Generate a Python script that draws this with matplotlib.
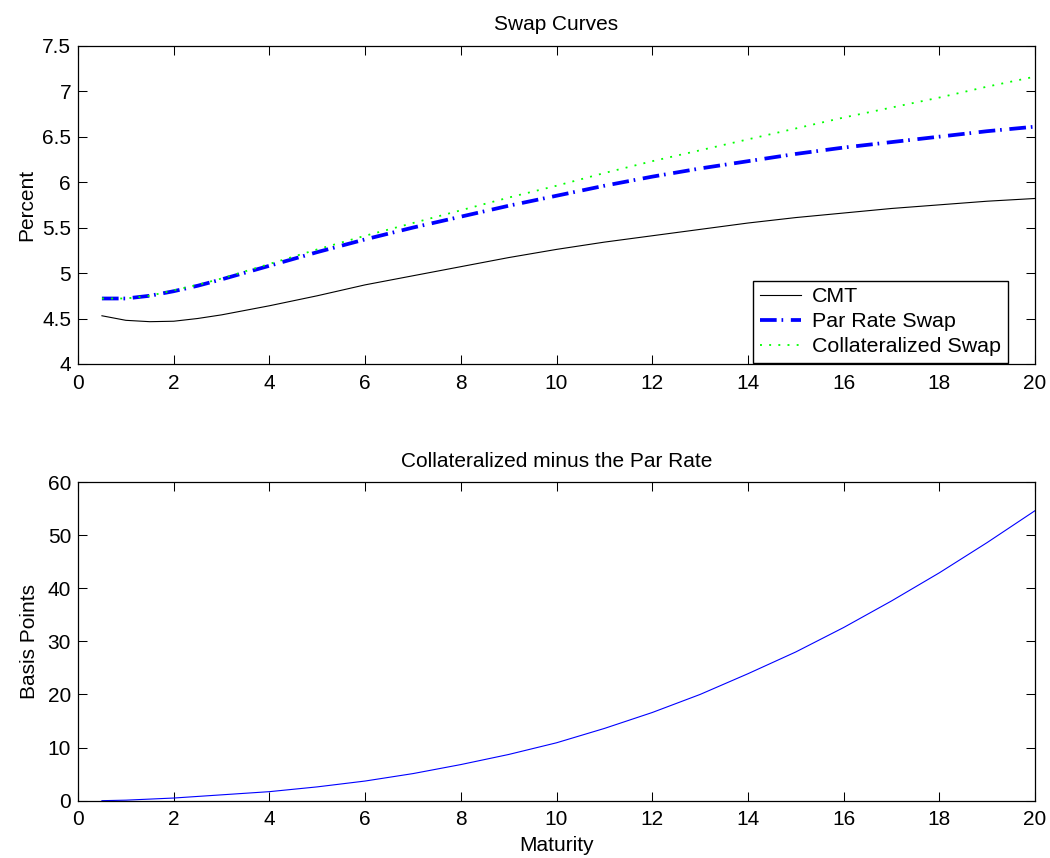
import matplotlib
matplotlib.use("Agg")
import matplotlib.pyplot as plt

plt.rcParams["font.family"]       = ["Liberation Sans", "DejaVu Sans"]
plt.rcParams["font.size"]         = 15
plt.rcParams["lines.scale_dashes"] = False

# maturity grid (years)
maturity = [0.5, 1, 1.5, 2, 2.5, 3, 4, 5, 6, 7, 8, 9, 10,
            11, 12, 13, 14, 15, 16, 17, 18, 19, 20]

# percent
cmt      = [4.53, 4.48, 4.465, 4.47, 4.50, 4.54, 4.64, 4.75, 4.87, 4.97, 5.07, 5.17, 5.26,
            5.34, 5.41, 5.48, 5.55, 5.61, 5.66, 5.71, 5.75, 5.79, 5.82]
par_swap = [4.72, 4.72, 4.75, 4.80, 4.86, 4.93, 5.08, 5.23, 5.37, 5.50, 5.62, 5.74, 5.85,
            5.96, 6.06, 6.15, 6.23, 6.31, 6.38, 6.44, 6.50, 6.56, 6.61]
coll_swap = [4.72, 4.72, 4.75, 4.81, 4.87, 4.94, 5.10, 5.26, 5.41, 5.55, 5.69, 5.83, 5.96,
             6.10, 6.23, 6.35, 6.47, 6.59, 6.71, 6.82, 6.93, 7.05, 7.16]

# basis points
spread_bp = [0.0, 0.1, 0.3, 0.5, 0.8, 1.1, 1.7, 2.6, 3.7, 5.1, 6.8, 8.7, 10.9,
             13.6, 16.6, 20.0, 23.9, 28.0, 32.6, 37.6, 42.9, 48.6, 54.6]


def matlab_axes(ax):
    ax.tick_params(direction="in", length=6.5, width=0.75, top=True, right=True,
                   labelsize=15, pad=5)
    ax.tick_params(axis="x", pad=7)
    for sp in ax.spines.values():
        sp.set_linewidth(0.9)
        sp.set_color("black")


fig = plt.figure(figsize=(10.5, 8.58), dpi=100)
ax1 = fig.add_axes([0.0743, 0.5758, 0.9114, 0.3709])
ax2 = fig.add_axes([0.0743, 0.0668, 0.9114, 0.3714])

ax1.plot(maturity, cmt, color="black", lw=0.8, label="CMT")
ax1.plot(maturity, par_swap, color=(0, 0, 1), lw=2.7,
         linestyle=(0, (12, 3.5, 1.2, 5.5)), label="Par Rate Swap")
ax1.plot(maturity, coll_swap, color=(0, 1, 0), lw=1.3,
         linestyle=(0, (1.4, 5.2)), label="Collateralized Swap")
ax1.set_xlim(0, 20)
ax1.set_ylim(4, 7.5)
ax1.set_xticks(range(0, 21, 2))
ax1.set_yticks([4, 4.5, 5, 5.5, 6, 6.5, 7, 7.5])
ax1.set_yticklabels(["4", "4.5", "5", "5.5", "6", "6.5", "7", "7.5"])
ax1.set_title("Swap Curves", fontsize=15, pad=11)
ax1.set_ylabel("Percent", fontsize=15, labelpad=4)
matlab_axes(ax1)
leg = ax1.legend(loc="lower right", bbox_to_anchor=(0.9715, 0.004), borderaxespad=0,
                 fontsize=15.4, handlelength=1.9, handletextpad=0.55,
                 borderpad=0.3, labelspacing=0.28, fancybox=False, framealpha=1)
leg.get_frame().set_edgecolor("black")
leg.get_frame().set_linewidth(1.0)

ax2.plot(maturity, spread_bp, color=(0, 0, 1), lw=0.8)
ax2.set_xlim(0, 20)
ax2.set_ylim(0, 60)
ax2.set_xticks(range(0, 21, 2))
ax2.set_yticks(range(0, 61, 10))
ax2.set_title("Collateralized minus the Par Rate", fontsize=15, pad=11)
ax2.set_xlabel("Maturity", fontsize=15, labelpad=5)
ax2.set_ylabel("Basis Points", fontsize=15, labelpad=6)
matlab_axes(ax2)

fig.savefig("out.png", dpi=100)
